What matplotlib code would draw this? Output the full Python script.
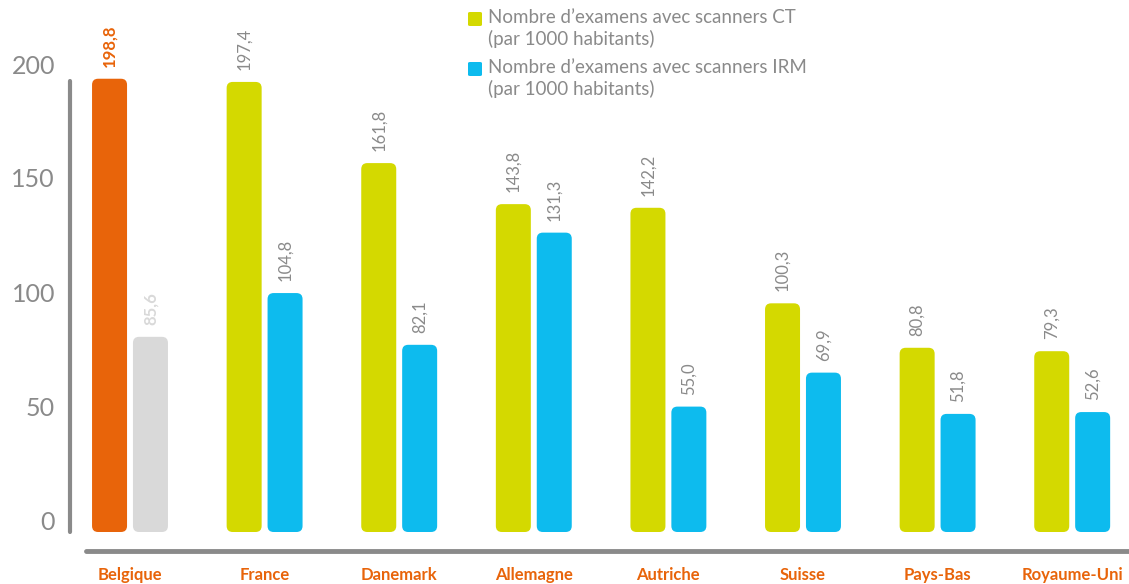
import matplotlib.pyplot as plt
import numpy as np
from matplotlib.patches import FancyBboxPatch

plt.rcParams['font.family'] = ['Lato', 'DejaVu Sans']

# data
countries = ['Belgique', 'France', 'Danemark', 'Allemagne', 'Autriche',
             'Suisse', 'Pays-Bas', 'Royaume-Uni']
ct = [198.8, 197.4, 161.8, 143.8, 142.2, 100.3, 80.8, 79.3]
irm = [85.6, 104.8, 82.1, 131.3, 55.0, 69.9, 51.8, 52.6]
yticks = [0, 50, 100, 150, 200]
legend_labels = ["Nombre d\u2019examens avec scanners CT\n(par 1000 habitants)",
                 "Nombre d\u2019examens avec scanners IRM\n(par 1000 habitants)"]

c_ct = '#D4D900'
c_irm = '#0DBBEE'
c_hl = '#E8640A'
c_hl2 = '#D9D9D9'
grey = '#8A8A8A'

W, H = 1129, 584
fig = plt.figure(figsize=(W / 100, H / 100), dpi=100)
ax = fig.add_axes([70 / W, (H - 532) / H, 1 - 70 / W, 532 / H])

ppu_x = 134.6          # pixels per category
ppu_y = 2.28           # pixels per value unit
x0 = 130
ax.set_xlim((70 - x0) / ppu_x, (W - x0) / ppu_x)
ax.set_ylim(0, 532 / ppu_y)
ax.axis('off')

x = np.arange(len(countries))
bw = 0.26
off = 0.152
b1 = ax.bar(x - off, ct, bw, color=c_ct)
b2 = ax.bar(x + off, irm, bw, color=c_irm)
b1[0].set_color(c_hl)
b2[0].set_color(c_hl2)

# round the bar corners
aspect = ppu_x / ppu_y
for b in list(b1) + list(b2):
    bx, by = b.get_x(), b.get_y()
    w, h = b.get_width(), b.get_height()
    p = FancyBboxPatch((bx, by), w, h,
                       boxstyle='round,pad=0,rounding_size=0.045',
                       mutation_aspect=aspect, fc=b.get_facecolor(),
                       ec='none')
    b.set_visible(False)
    ax.add_patch(p)

# value labels
lab_off = 12 / ppu_y
for i in range(len(countries)):
    col1, col2, fw = grey, grey, 'normal'
    if i == 0:
        col1, col2, fw = c_hl, c_hl2, 'bold'
    ax.text(x[i] - off, ct[i] + lab_off, f'{ct[i]:.1f}'.replace('.', ','),
            rotation=90, ha='center', va='bottom', color=col1,
            fontsize=12, fontweight=fw)
    ax.text(x[i] + off, irm[i] + lab_off, f'{irm[i]:.1f}'.replace('.', ','),
            rotation=90, ha='center', va='bottom', color=col2,
            fontsize=12, fontweight=fw)

# y tick labels
xl = ax.get_xlim()[0]
for t in yticks:
    ax.text(xl - 15 / ppu_x, t + 10 / ppu_y, str(t), ha='right', va='center',
            color=grey, fontsize=18)

# axis lines
ax.plot([xl, xl], [0, 198], color=grey, lw=3, solid_capstyle='round',
        clip_on=False)
ax.plot([(86 - x0) / ppu_x, ax.get_xlim()[1]], [-19 / ppu_y, -19 / ppu_y],
        color=grey, lw=3.5, solid_capstyle='round', clip_on=False)

# category labels
for i, c in enumerate(countries):
    ax.text(x[i], -43 / ppu_y, c, ha='center', va='center', color=c_hl,
            fontsize=12, fontweight='bold')

# legend
for k, (lab, col) in enumerate(zip(legend_labels, [c_ct, c_irm])):
    ytop = 12 + k * 50
    sq = FancyBboxPatch((468 / W, (H - ytop - 14) / H), 14 / W, 14 / H,
                        boxstyle='round,pad=0,rounding_size=0.002',
                        transform=fig.transFigure, fc=col, ec='none')
    fig.patches.append(sq)
    fig.text(488 / W, (H - ytop + 3) / H, lab, ha='left', va='top',
             color=grey, fontsize=13.5, linespacing=1.25)

fig.savefig('out.png', dpi=100)
